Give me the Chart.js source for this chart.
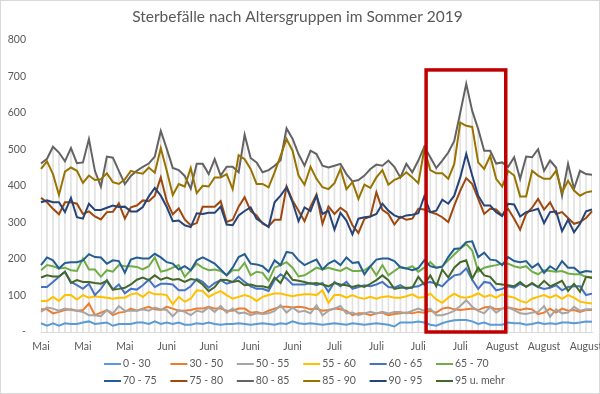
<!DOCTYPE html>
<html lang="de">
<head>
<meta charset="UTF-8">
<title>Sterbefälle nach Altersgruppen im Sommer 2019</title>
<script src="https://cdn.jsdelivr.net/npm/chart.js"></script>
<style>
  html, body { margin: 0; padding: 0; background: #fff; }
  #wrap { width: 600px; height: 394px; position: relative; }
</style>
</head>
<body>
<div id="wrap"><canvas id="sterbefaelle"></canvas></div>

<script>
// Tageswerte 16. Mai bis 16. August 2019
const alter0_30 = [24,17,24,17,24,22,22,26,29,22,24,26,17,22,22,22,26,26,22,29,22,26,22,26,20,20,24,
  22,26,22,20,22,22,24,22,20,22,24,22,20,24,22,29,24,22,24,22,20,22,24,22,20,24,22,20,22,24,22,20,15,
  26,26,26,29,26,20,17,24,29,32,33,33,29,22,26,20,20,20,26,24,24,20,22,26,22,24,22,26,26,24,26,29,28];
const alter30_50 = [62,62,51,55,60,62,58,60,78,46,53,60,46,53,55,64,58,64,69,62,60,69,64,58,58,60,64,
  64,69,64,64,58,58,64,64,53,55,51,58,64,69,69,67,69,67,62,64,58,60,64,62,58,46,51,51,46,51,53,46,49,
  51,53,51,55,53,58,53,64,67,62,60,62,64,60,67,69,62,64,67,64,60,64,62,49,53,64,53,64,58,60,55,60,60];
const alter50_55 = [55,67,64,58,64,60,58,55,46,46,43,60,51,71,58,58,58,62,58,67,62,60,43,60,55,46,58,
  55,67,55,71,53,64,51,53,46,51,49,51,58,73,53,67,55,58,51,73,46,58,64,71,51,53,46,51,55,51,55,51,55,
  55,51,58,64,58,64,46,46,51,58,71,87,69,58,51,69,53,64,67,60,51,49,53,55,71,42,62,51,53,69,58,62,62];
const alter55_60 = [85,85,96,85,101,101,89,101,94,98,96,94,91,94,94,103,106,96,110,103,103,101,76,96,83,91,114,
  112,96,105,112,101,91,96,101,96,85,96,101,105,105,101,98,101,103,103,101,114,80,101,101,94,101,94,91,96,91,96,98,94,
  94,98,103,94,96,105,89,80,94,105,96,94,98,106,96,101,94,103,98,94,85,80,91,96,101,94,101,91,101,94,83,80,78];
const alter60_65 = [123,123,137,151,165,137,128,118,132,101,118,142,116,130,106,118,116,128,143,123,132,132,130,114,114,125,145,
  137,121,134,142,132,137,151,137,125,118,118,112,142,158,146,130,130,130,134,128,134,110,137,125,137,118,123,128,125,130,137,123,121,
  128,118,123,125,134,137,132,125,142,155,158,174,143,118,137,134,114,118,125,121,132,125,132,123,118,121,128,114,123,125,125,101,105];
const alter65_70 = [169,183,180,174,176,169,167,201,171,171,151,169,165,183,180,180,178,171,180,204,165,169,176,183,151,169,187,
  176,169,171,167,155,169,169,189,155,165,162,140,176,183,191,176,152,155,165,176,171,176,171,167,176,167,167,169,180,155,183,155,167,
  178,174,180,165,176,191,176,180,196,212,228,241,223,165,176,180,183,187,187,180,176,180,165,158,169,167,165,167,160,158,158,151,150];
const alter70_75 = [183,204,196,174,189,191,191,196,213,205,204,187,196,194,162,198,204,201,201,214,204,191,187,171,180,169,196,
  204,196,187,171,155,176,205,213,187,185,180,165,196,183,219,216,196,183,191,198,171,187,196,183,204,189,191,158,180,198,201,201,194,
  177,174,169,175,196,180,176,178,205,227,229,246,248,205,217,198,196,183,205,194,191,194,176,187,162,180,169,194,176,176,162,167,165];
const alter75_80 = [367,355,337,322,355,355,351,323,330,316,308,328,329,352,310,341,346,360,358,373,423,358,322,338,308,292,298,
  343,343,343,358,301,307,343,369,331,319,296,289,307,307,398,360,332,303,343,376,296,343,323,340,328,292,271,310,316,382,334,323,294,
  315,307,310,337,335,328,323,314,301,346,387,421,405,364,323,337,335,319,337,310,280,323,340,364,335,355,323,328,312,296,301,312,330];
const alter80_85 = [461,474,507,491,467,503,462,464,528,441,398,480,477,441,405,427,441,452,461,480,550,501,449,443,427,392,460,
  460,432,473,428,452,452,437,540,476,464,437,443,455,470,557,529,487,455,496,487,455,450,455,460,432,412,416,428,446,458,455,469,452,
  423,460,437,469,507,478,449,469,491,523,600,679,605,555,496,496,461,464,452,478,419,480,478,500,441,469,450,373,460,392,441,432,430];
const alter85_90 = [446,467,432,375,439,450,441,408,428,416,418,434,410,405,418,441,436,433,450,436,503,441,375,405,398,449,380,
  400,398,423,423,432,391,484,473,446,405,405,396,437,482,528,496,428,403,452,419,396,391,407,446,391,410,364,403,394,423,443,403,416,
  423,437,423,407,500,443,434,434,419,460,573,564,561,464,446,482,419,398,441,428,371,371,441,428,419,419,441,382,414,387,373,382,385];
const alter90_95 = [355,360,355,355,328,367,314,310,351,334,334,340,346,342,343,330,330,342,371,394,373,342,303,305,292,287,325,
  323,326,326,343,294,292,319,331,341,310,299,287,355,373,396,355,303,341,331,373,323,332,280,326,305,267,310,314,316,323,351,332,319,
  313,319,321,325,371,328,332,362,351,373,423,487,428,373,346,346,328,317,351,349,316,328,332,337,298,328,330,276,307,273,296,330,335];
const alter95plus = [149,155,152,152,165,134,142,137,137,134,132,140,116,118,121,130,143,149,142,155,143,149,143,145,137,145,142,
  130,112,123,143,142,137,140,128,130,125,125,121,149,134,165,143,140,137,132,134,130,125,134,130,128,123,128,123,132,142,155,142,118,
  121,121,121,151,130,155,125,171,149,176,191,196,146,176,155,151,132,130,128,125,137,123,134,123,140,125,132,140,112,132,110,151,148];

const altersgruppen = ['0 - 30', '30 - 50', '50 - 55', '55 - 60', '60 - 65', '65 - 70',
  '70 - 75', '75 - 80', '80 - 85', '85 - 90', '90 - 95', '95 u. mehr'];
const reihen = [alter0_30, alter30_50, alter50_55, alter55_60, alter60_65, alter65_70,
  alter70_75, alter75_80, alter80_85, alter85_90, alter90_95, alter95plus];

// Beschriftung der x-Achse: jede Woche ein Monatsname
const monatsTicks = ['Mai', 'Mai', 'Mai', 'Juni', 'Juni', 'Juni', 'Juni',
  'Juli', 'Juli', 'Juli', 'Juli', 'August', 'August', 'August'];

// Hitzewelle Ende Juli (rote Markierung), in Tagesindex und Sterbefällen
const markierung = { von: 64.3, bis: 77.6, oben: 717 };

// Kategorien: ein Eintrag pro Tag
const tage = [];
for (let i = 0; i < alter0_30.length; i++) {
    const d = new Date(2019, 4, 16 + i);
    tage.push(d.getDate() + '.' + (d.getMonth() + 1) + '.');
}

// Office-Farben der Reihen
const farben = ['#5B9BD5', '#ED7D31', '#A5A5A5', '#FFC000', '#4472C4', '#70AD47',
  '#255E91', '#9E480E', '#636363', '#997300', '#264478', '#43682B'];

// Lotlinien: vom höchsten Wert des Tages bis zur Achse
const hoechstwerte = tage.map((_, i) => Math.max(...reihen.map(r => r[i])));

const datasets = reihen.map((r, k) => ({
    type: 'line',
    label: altersgruppen[k],
    data: r,
    borderColor: farben[k],
    backgroundColor: farben[k],
    borderWidth: 2,
    pointRadius: 0,
    tension: 0,
    order: 12 - k
}));
datasets.push({
    type: 'bar',
    label: 'Lotlinien',
    data: hoechstwerte,
    backgroundColor: 'rgba(200,200,200,0.55)',
    barThickness: 1,
    order: 50
});

// weißer Hintergrund mit dünnem Rahmen
const rahmen = {
    id: 'rahmen',
    beforeDraw(chart) {
        const ctx = chart.ctx;
        ctx.save();
        ctx.fillStyle = '#ffffff';
        ctx.fillRect(0, 0, chart.width, chart.height);
        ctx.strokeStyle = '#d9d9d9';
        ctx.lineWidth = 1;
        ctx.strokeRect(0.5, 0.5, chart.width - 1, chart.height - 1);
        ctx.restore();
    }
};

// rotes Rechteck um die Hitzewelle
const hitzeRahmen = {
    id: 'hitzeRahmen',
    afterDatasetsDraw(chart) {
        const { ctx, scales: { x, y } } = chart;
        const x1 = x.getPixelForValue(markierung.von);
        const x2 = x.getPixelForValue(markierung.bis);
        const y1 = y.getPixelForValue(markierung.oben);
        const y2 = y.getPixelForValue(0);
        ctx.save();
        ctx.strokeStyle = '#C00000';
        ctx.lineWidth = 3.5;
        ctx.strokeRect(x1, y1, x2 - x1, y2 - y1);
        ctx.restore();
    }
};

// Legende im Raster 6 x 2 wie in Excel
const legendeRaster = {
    id: 'legendeRaster',
    afterDraw(chart, args, opts) {
        const ctx = chart.ctx;
        const sets = chart.data.datasets.filter(d => d.type === 'line');
        ctx.save();
        ctx.font = opts.font;
        ctx.textBaseline = 'middle';
        sets.forEach((ds, i) => {
            const col = i % opts.spalten;
            const row = Math.floor(i / opts.spalten);
            const x = opts.links + col * opts.spaltenBreite;
            const y = opts.oben + row * opts.zeilenHoehe;
            ctx.strokeStyle = ds.borderColor;
            ctx.lineWidth = 2;
            ctx.beginPath();
            ctx.moveTo(x, y);
            ctx.lineTo(x + opts.linie, y);
            ctx.stroke();
            ctx.fillStyle = opts.color;
            ctx.fillText(ds.label, x + opts.linie + 2, y);
        });
        ctx.restore();
    }
};

Chart.defaults.font.family = 'Lato, "Open Sans", sans-serif';
Chart.defaults.color = '#595959';

new Chart(document.getElementById('sterbefaelle'), {
    type: 'line',
    data: { labels: tage, datasets: datasets },
    options: {
        responsive: true,
        maintainAspectRatio: false,
        animation: false,
        devicePixelRatio: 1,
        layout: { padding: { top: 0, right: 5, bottom: 40, left: 0 } },
        plugins: {
            legend: { display: false },
            tooltip: { enabled: false },
            title: {
                display: true,
                text: 'Sterbefälle nach Altersgruppen im Sommer 2019',
                color: '#595959',
                font: { size: 15.5, weight: 'normal' },
                padding: { top: 8, bottom: 13 }
            },
            legendeRaster: {
                font: '10.5px Lato',
                color: '#595959',
                spalten: 6,
                spaltenBreite: 66.4,
                links: 104,
                oben: 364,
                zeilenHoehe: 17,
                linie: 17
            }
        },
        scales: {
            x: {
                offset: false,
                grid: { display: false, offset: false, drawTicks: false },
                border: { display: true, color: '#d9d9d9' },
                afterFit(scale) { scale.height = 22; },
                ticks: {
                    autoSkip: false,
                    maxRotation: 0,
                    padding: 8,
                    font: { size: 10.5 },
                    callback: (val, idx) => idx % 7 === 0 ? monatsTicks[idx / 7] : ''
                }
            },
            y: {
                min: 0,
                max: 800,
                grid: { display: false, drawTicks: false },
                border: { display: false },
                afterFit(scale) { scale.width = 41; },
                ticks: {
                    stepSize: 100,
                    padding: 15,
                    font: { size: 10.5 },
                    callback: v => v === 0 ? '-' : v
                }
            }
        }
    },
    plugins: [rahmen, hitzeRahmen, legendeRaster]
});
</script>
</body>
</html>
